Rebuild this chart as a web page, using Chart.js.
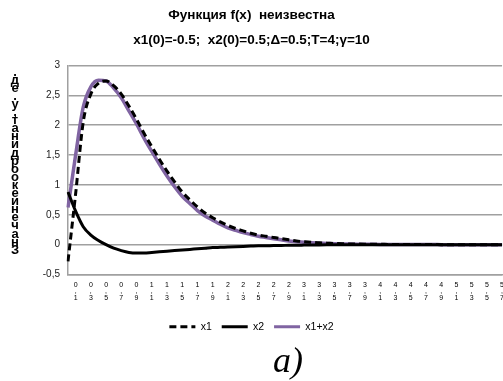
<!DOCTYPE html>
<html>
<head>
<meta charset="utf-8">
<script src="https://cdn.jsdelivr.net/npm/chart.js@4"></script>
<style>
  html, body { margin: 0; padding: 0; background: #fff; }
  #wrap { position: relative; width: 503px; height: 381px; }
  #cap { position: absolute; left: 273px; top: 339px; font: italic 36px "Liberation Serif", serif; line-height: normal; color: #000; }
</style>
</head>
<body>
<div id="wrap">
  <canvas id="c" width="503" height="381"></canvas>
  <div id="cap">a)</div>
</div>
<script>
// подписи оси t (шаг 0,1)
const tLabels = [
  '0', '0,1', '0,2', '0,3', '0,4', '0,5', '0,6', '0,7', '0,8', '0,9',
  '1', '1,1', '1,2', '1,3', '1,4', '1,5', '1,6', '1,7', '1,8', '1,9',
  '2', '2,1', '2,2', '2,3', '2,4', '2,5', '2,6', '2,7', '2,8', '2,9',
  '3', '3,1', '3,2', '3,3', '3,4', '3,5', '3,6', '3,7', '3,8', '3,9',
  '4', '4,1', '4,2', '4,3', '4,4', '4,5', '4,6', '4,7', '4,8', '4,9',
  '5', '5,1', '5,2', '5,3', '5,4', '5,5', '5,6', '5,7'
];
const x1 = [
  -0.28, 0.85, 2.05, 2.52, 2.70, 2.74, 2.66, 2.52, 2.32, 2.10,
  1.86, 1.64, 1.43, 1.23, 1.05, 0.88, 0.75, 0.63, 0.53, 0.45,
  0.38, 0.32, 0.27, 0.23, 0.19, 0.16, 0.14, 0.12, 0.10, 0.08,
  0.06, 0.05, 0.04, 0.03, 0.025, 0.02, 0.015, 0.012, 0.01, 0.008,
  0.006, 0.005, 0.004, 0.003, 0.003, 0.002, 0.002, 0.001, 0.001, 0,
  0, 0, 0, 0, 0, 0, 0, 0
];
const x2 = [
  0.88, 0.56, 0.30, 0.16, 0.07, 0.00, -0.06, -0.10, -0.13, -0.14,
  -0.14, -0.13, -0.12, -0.11, -0.10, -0.09, -0.08, -0.07, -0.06, -0.05,
  -0.045, -0.04, -0.035, -0.03, -0.025, -0.02, -0.02, -0.015, -0.015, -0.01,
  -0.01, -0.008, -0.006, -0.005, -0.004, -0.003, -0.002, -0.001, -0.001, 0,
  0, 0, 0, 0, 0, 0, 0, 0, 0, 0,
  0, 0, 0, 0, 0, 0, 0, 0
];
const x1x2 = [
  0.62, 1.50, 2.30, 2.64, 2.75, 2.74, 2.62, 2.46, 2.24, 2.02,
  1.78, 1.56, 1.35, 1.15, 0.97, 0.81, 0.69, 0.57, 0.48, 0.41,
  0.34, 0.28, 0.24, 0.20, 0.17, 0.14, 0.12, 0.10, 0.08, 0.06,
  0.05, 0.04, 0.03, 0.025, 0.02, 0.015, 0.012, 0.01, 0.008, 0.006,
  0.005, 0.004, 0.003, 0.003, 0.002, 0.002, 0.001, 0.001, 0.001, 0,
  0, 0, 0, 0, 0, 0, 0, 0
];
const yMin = -0.5, yMax = 3, yStep = 0.5;
const title1 = 'Функция f(x)  неизвестна';
const title2 = 'x1(0)=-0.5;  x2(0)=0.5;Δ=0.5;T=4;γ=10';
const yTitle = 'Значение координат, у.ед.';

const FONT = '"Liberation Sans", Arial, sans-serif';
const GRID = '#a0a0a0';

// заголовок оси Y: буквы столбиком, как в исходнике
const yTitlePlugin = {
  id: 'yTitle',
  afterDraw(ch) {
    const ctx = ch.ctx;
    const chars = [...yTitle].filter(c => c !== ' ').reverse();
    ctx.save();
    ctx.font = 'bold 13px ' + FONT;
    ctx.fillStyle = '#000';
    ctx.textAlign = 'center';
    ctx.textBaseline = 'middle';
    chars.forEach((c, k) => ctx.fillText(c, 15, 72 + k * 8.1));
    ctx.restore();
  }
};

new Chart(document.getElementById('c'), {
  type: 'line',
  data: {
    labels: tLabels,
    datasets: [
      { label: 'x1', data: x1, borderColor: '#000', backgroundColor: '#000', borderWidth: 3, borderDash: [7, 4] },
      { label: 'x2', data: x2, borderColor: '#000', backgroundColor: '#000', borderWidth: 3 },
      { label: 'x1+x2', data: x1x2, borderColor: '#8064a2', backgroundColor: '#8064a2', borderWidth: 3.5 },
    ]
  },
  options: {
    responsive: false, animation: false,
    layout: { padding: { left: 0, right: 0, top: 0, bottom: 39 } },
    elements: { point: { radius: 0 }, line: { cubicInterpolationMode: 'monotone' } },
    plugins: {
      title: { display: true, text: title1, color: '#000', font: { family: FONT, size: 13.5, weight: 'bold' }, padding: { top: 7, bottom: 5 } },
      subtitle: { display: true, text: title2, color: '#000', font: { family: FONT, size: 13.5, weight: 'bold' }, padding: { top: 4, bottom: 17 } },
      legend: {
        position: 'bottom',
        labels: {
          usePointStyle: true, pointStyle: 'line', pointStyleWidth: 26, color: '#000', padding: 10,
          font: { family: FONT, size: 10.5 },
          generateLabels: ch => Chart.defaults.plugins.legend.labels.generateLabels(ch).map((l, i) => {
            const ds = ch.data.datasets[i];
            return { ...l, lineDash: ds.borderDash || [], lineWidth: 3, strokeStyle: ds.borderColor };
          })
        }
      },
      tooltip: { enabled: false }
    },
    scales: {
      x: {
        grid: { display: false },
        border: { display: true, color: GRID, width: 1.5 },
        afterFit: s => { s.height = 37; },
        ticks: {
          autoSkip: false, maxRotation: 0, minRotation: 0, padding: -1, color: '#000',
          font: { family: FONT, size: 7, lineHeight: 0.95 },
          callback: (v, i) => (i % 2 === 1 ? tLabels[i].split('') : null)
        }
      },
      y: {
        min: yMin, max: yMax,
        afterFit: s => { s.width = 68; },
        grid: { color: GRID, lineWidth: 1.5, drawTicks: false },
        border: { display: true, color: GRID, width: 1.5 },
        ticks: {
          stepSize: yStep, padding: 8, color: '#222',
          font: { family: FONT, size: 10 },
          callback: v => String(v).replace('.', ',')
        }
      }
    }
  },
  plugins: [yTitlePlugin]
});
</script>
</body>
</html>
